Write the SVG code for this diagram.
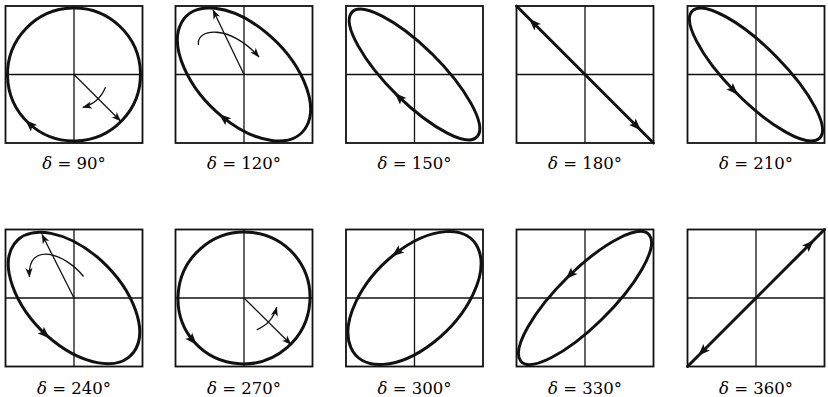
<svg xmlns="http://www.w3.org/2000/svg" xmlns:xlink="http://www.w3.org/1999/xlink" width="828" height="397" viewBox="0 0 828 397">
<style>
.box{fill:none;stroke:#111;stroke-width:1.8}
.ax{stroke:#111;stroke-width:1.3}
.pol{fill:none;stroke:#111;stroke-width:3;stroke-linecap:round}
.vec{fill:none;stroke:#111;stroke-width:1.3}
.lbl{font-family:"DejaVu Serif","Liberation Serif",serif;font-size:16.5px;fill:#000;text-anchor:middle}
.d{font-style:italic}
</style>
<defs>
<marker id="ah" markerUnits="userSpaceOnUse" viewBox="-12 -7 16 14" markerWidth="16" markerHeight="14" refX="0" refY="0" orient="auto" overflow="visible"><path d="M4,0 L-8,-4.6 L-5.5,0 L-8,4.6 Z" fill="#111"/></marker>
<marker id="sh" markerUnits="userSpaceOnUse" viewBox="-10 -6 12 12" markerWidth="12" markerHeight="12" refX="0" refY="0" orient="auto" overflow="visible"><path d="M0.5,0 L-9,-3.6 L-6.5,0 L-9,3.6 Z" fill="#111"/></marker>
<g id="frame">
<rect class="box" x="-68.5" y="-68.5" width="137" height="137"/>
<line class="ax" x1="-68.5" y1="0" x2="68.5" y2="0"/>
<line class="ax" x1="0" y1="-68.5" x2="0" y2="68.5"/>
</g>
</defs>
<rect width="828" height="397" fill="#fff"/>

<g id="panel-90" transform="translate(74,74.5)">
<use href="#frame"/>
<g transform="rotate(-45)"><path class="pol" marker-mid="url(#ah)" d="M66.48,-1.74 A66.5 66.5 0 0 1 -66.48,1.74 A66.5 66.5 0 0 1 66.48,-1.74"/></g>
<line class="vec" x1="0" y1="0" x2="46.5" y2="46.5" marker-end="url(#sh)"/>
<path class="vec" d="M31.5,12.7 A34 34 0 0 1 8.8,32.8" marker-end="url(#sh)"/>
<text class="lbl" x="0" y="94"><tspan class="d">δ</tspan> = 90°</text>
</g>

<g id="panel-120" transform="translate(244,74.5)">
<use href="#frame"/>
<g transform="rotate(-45)"><path class="pol" marker-mid="url(#ah)" d="M45.3,-14.3 A46 82 0 0 1 -45.3,14.3 A46 82 0 0 1 45.3,-14.3"/></g>
<line class="vec" x1="0" y1="0" x2="-31" y2="-64.5" marker-end="url(#sh)"/>
<path class="vec" d="M-45.5,-29.5 C-48,-46.5 -14,-50.5 15,-17.5" marker-end="url(#sh)"/>
<text class="lbl" x="0" y="94"><tspan class="d">δ</tspan> = 120°</text>
</g>

<g id="panel-150" transform="translate(414.5,74.5)">
<use href="#frame"/>
<g transform="rotate(-45)"><path class="pol" marker-mid="url(#ah)" d="M26.98,-3 A27 90 0 0 1 -26.98,3 A27 90 0 0 1 26.98,-3"/></g>
<text class="lbl" x="0" y="94"><tspan class="d">δ</tspan> = 150°</text>
</g>

<g id="panel-180" transform="translate(585,74.5)">
<use href="#frame"/>
<path class="pol" marker-mid="url(#ah)" d="M0,0 L-53,-53 L-68.5,-68.5"/>
<path class="pol" marker-mid="url(#ah)" d="M0,0 L53,53 L68.5,68.5"/>
<text class="lbl" x="0" y="94"><tspan class="d">δ</tspan> = 180°</text>
</g>

<g id="panel-210" transform="translate(756,74.5)">
<use href="#frame"/>
<g transform="rotate(-45)"><path class="pol" marker-mid="url(#ah)" d="M26.99,2.5 A27 90 0 0 0 -26.99,-2.5 A27 90 0 0 0 26.99,2.5"/></g>
<text class="lbl" x="0" y="94"><tspan class="d">δ</tspan> = 210°</text>
</g>

<g id="panel-240" transform="translate(74,298)">
<use href="#frame"/>
<g transform="rotate(-45)"><path class="pol" marker-mid="url(#ah)" d="M45.82,-7.15 A46 82 0 0 0 -45.82,7.15 A46 82 0 0 0 45.82,-7.15"/></g>
<line class="vec" x1="0" y1="0" x2="-32" y2="-63.5" marker-end="url(#sh)"/>
<path class="vec" d="M9.5,-21.5 C-8,-44 -47,-58 -44.5,-21" marker-end="url(#sh)"/>
<text class="lbl" x="0" y="95.5"><tspan class="d">δ</tspan> = 240°</text>
</g>

<g id="panel-270" transform="translate(244,298)">
<use href="#frame"/>
<g transform="rotate(-45)"><path class="pol" marker-mid="url(#ah)" d="M66.35,4.4 A66.5 66.5 0 0 0 -66.35,-4.4 A66.5 66.5 0 0 0 66.35,4.4"/></g>
<line class="vec" x1="0" y1="0" x2="47" y2="46.5" marker-end="url(#sh)"/>
<path class="vec" d="M12.7,31.8 A34 34 0 0 0 32.7,9.2" marker-end="url(#sh)"/>
<text class="lbl" x="0" y="95.5"><tspan class="d">δ</tspan> = 270°</text>
</g>

<g id="panel-300" transform="translate(414.5,298)">
<use href="#frame"/>
<g transform="rotate(-45)"><path class="pol" marker-mid="url(#ah)" d="M-17.6,44.93 A82 46 0 0 0 17.6,-44.93 A82 46 0 0 0 -17.6,44.93"/></g>
<text class="lbl" x="0" y="95.5"><tspan class="d">δ</tspan> = 300°</text>
</g>

<g id="panel-330" transform="translate(585,298)">
<use href="#frame"/>
<g transform="rotate(-45)"><path class="pol" marker-mid="url(#ah)" d="M-3.77,26.98 A90 27 0 0 0 3.77,-26.98 A90 27 0 0 0 -3.77,26.98"/></g>
<text class="lbl" x="0" y="95.5"><tspan class="d">δ</tspan> = 330°</text>
</g>

<g id="panel-360" transform="translate(756,298)">
<use href="#frame"/>
<path class="pol" marker-mid="url(#ah)" d="M0,0 L55,-55 L68.5,-68.5"/>
<path class="pol" marker-mid="url(#ah)" d="M0,0 L-55,55 L-68.5,68.5"/>
<text class="lbl" x="0" y="95.5"><tspan class="d">δ</tspan> = 360°</text>
</g>
</svg>
